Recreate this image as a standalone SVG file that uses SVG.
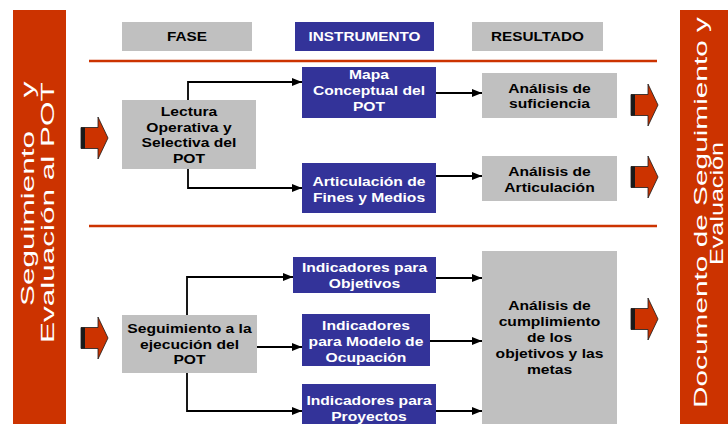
<svg xmlns="http://www.w3.org/2000/svg" xmlns:xlink="http://www.w3.org/1999/xlink" width="728" height="424" viewBox="0 0 728 424">
  <style>
    .bar { fill: #CC3300; }
    .gray { fill: #C0C0C0; }
    .blue { fill: #333399; }
    .t { font-family: "Liberation Sans", Arial, sans-serif; font-weight: bold; font-size: 13.5px; text-anchor: middle; }
    .tk { fill: #000000; }
    .tw { fill: #FFFFFF; }
    .hd { font-size: 13.2px; }
    .side { font-family: "Liberation Sans", Arial, sans-serif; fill: #FFFFFF; }
    .rule { stroke: #CC3300; stroke-width: 2.5; fill: none; }
    .conn { stroke: #000000; stroke-width: 1.8; fill: none; marker-end: url(#ah); }
  </style>
  <defs>
    <marker id="ah" markerUnits="userSpaceOnUse" markerWidth="10" markerHeight="8" refX="10" refY="4" orient="auto">
      <path d="M0,0 L10,4 L0,8 Z" fill="#000000"/>
    </marker>
    <g id="blk">
      <path d="M0,-10.5 H17 V-21 L27,0 L17,21 V10.5 H0 Z" fill="#CC3300" stroke="#1a1a1a" stroke-width="0.8"/>
      <rect x="0" y="-10.5" width="4" height="21" fill="#1a1a1a"/>
    </g>
  </defs>

  <!-- side bars -->
  <g id="left-bar">
    <rect class="bar" x="13" y="10" width="53" height="414"/>
    <text class="side" font-size="17.5" transform="translate(34,306) rotate(-90) scale(1.8,1)"><tspan x="0" y="0">Seguimiento</tspan><tspan x="116" y="0">y</tspan></text>
    <text class="side" font-size="17.5" transform="translate(54,343) rotate(-90) scale(1.8,1)">Evaluación al POT</text>
  </g>
  <g id="right-bar">
    <rect class="bar" x="680" y="10" width="48" height="414"/>
    <text class="side" font-size="19" transform="translate(707,408) rotate(-90)" textLength="391" lengthAdjust="spacingAndGlyphs">Documento de Seguimiento y</text>
    <text class="side" font-size="18.5" transform="translate(723,265) rotate(-90)" textLength="123" lengthAdjust="spacingAndGlyphs">Evaluación</text>
  </g>

  <!-- headers -->
  <g id="h-fase">
    <rect class="gray" x="122" y="22" width="130" height="29"/>
    <text class="t tk hd" transform="translate(187,0) scale(1.16,1)" x="0" y="41.5">FASE</text>
  </g>
  <g id="h-instrumento">
    <rect class="blue" x="295" y="22" width="139" height="29"/>
    <text class="t tw hd" transform="translate(364.5,0) scale(1.16,1)" x="0" y="41.5">INSTRUMENTO</text>
  </g>
  <g id="h-resultado">
    <rect class="gray" x="472" y="22" width="131" height="29"/>
    <text class="t tk hd" transform="translate(537.5,0) scale(1.16,1)" x="0" y="41.5">RESULTADO</text>
  </g>

  <!-- separator rules -->
  <g id="rules">
    <line class="rule" x1="89" y1="61" x2="657" y2="61"/>
    <line class="rule" x1="89" y1="226" x2="657" y2="226"/>
  </g>

  <!-- nodes -->
  <g id="lectura">
    <rect class="gray" x="122" y="100" width="134" height="69"/>
    <text class="t tk" transform="translate(189,0) scale(1.16,1)"><tspan x="0" y="116">Lectura</tspan><tspan x="0" y="131.7">Operativa y</tspan><tspan x="0" y="147.4">Selectiva del</tspan><tspan x="0" y="163">POT</tspan></text>
  </g>
  <g id="mapa">
    <rect class="blue" x="302" y="67" width="134" height="51"/>
    <text class="t tw" transform="translate(369,0) scale(1.16,1)"><tspan x="0" y="79">Mapa</tspan><tspan x="0" y="95">Conceptual del</tspan><tspan x="0" y="111">POT</tspan></text>
  </g>
  <g id="articulacion">
    <rect class="blue" x="302" y="163" width="134" height="50"/>
    <text class="t tw" transform="translate(369,0) scale(1.16,1)"><tspan x="0" y="186">Articulación de</tspan><tspan x="0" y="201.7">Fines y Medios</tspan></text>
  </g>
  <g id="suficiencia">
    <rect class="gray" x="482" y="73" width="135" height="45"/>
    <text class="t tk" transform="translate(549.5,0) scale(1.16,1)"><tspan x="0" y="92.7">Análisis de</tspan><tspan x="0" y="108.3">suficiencia</tspan></text>
  </g>
  <g id="an-articulacion">
    <rect class="gray" x="482" y="156" width="135" height="45"/>
    <text class="t tk" transform="translate(549.5,0) scale(1.16,1)"><tspan x="0" y="176">Análisis de</tspan><tspan x="0" y="191.7">Articulación</tspan></text>
  </g>
  <g id="seguimiento">
    <rect class="gray" x="122" y="315" width="135" height="58"/>
    <text class="t tk" transform="translate(189.5,0) scale(1.16,1)"><tspan x="0" y="333.3">Seguimiento a la</tspan><tspan x="0" y="349">ejecución del</tspan><tspan x="0" y="364.5">POT</tspan></text>
  </g>
  <g id="ind-objetivos">
    <rect class="blue" x="293" y="257" width="143" height="36"/>
    <text class="t tw" transform="translate(364.5,0) scale(1.16,1)"><tspan x="0" y="271.7">Indicadores para</tspan><tspan x="0" y="288.3">Objetivos</tspan></text>
  </g>
  <g id="ind-modelo">
    <rect class="blue" x="302" y="314" width="128" height="52"/>
    <text class="t tw" transform="translate(366,0) scale(1.16,1)"><tspan x="0" y="330">Indicadores</tspan><tspan x="0" y="345.7">para Modelo de</tspan><tspan x="0" y="361.7">Ocupación</tspan></text>
  </g>
  <g id="ind-proyectos">
    <rect class="blue" x="302" y="384" width="134" height="42"/>
    <text class="t tw" transform="translate(369,0) scale(1.16,1)"><tspan x="0" y="405">Indicadores para</tspan><tspan x="0" y="420.7">Proyectos</tspan></text>
  </g>
  <g id="cumplimiento">
    <rect class="gray" x="482" y="251" width="135" height="175"/>
    <text class="t tk" transform="translate(549.5,0) scale(1.16,1)"><tspan x="0" y="310">Análisis de</tspan><tspan x="0" y="326">cumplimiento</tspan><tspan x="0" y="342">de los</tspan><tspan x="0" y="358">objetivos y las</tspan><tspan x="0" y="374">metas</tspan></text>
  </g>

  <!-- block arrows -->
  <g id="block-arrows">
    <use xlink:href="#blk" href="#blk" transform="translate(81,138)"/>
    <use xlink:href="#blk" href="#blk" transform="translate(81,338)"/>
    <use xlink:href="#blk" href="#blk" transform="translate(631,105)"/>
    <use xlink:href="#blk" href="#blk" transform="translate(631,177)"/>
    <use xlink:href="#blk" href="#blk" transform="translate(631,319)"/>
  </g>

  <!-- connectors -->
  <g id="connectors">
    <path class="conn" d="M188,100 V82 H302"/>
    <path class="conn" d="M188,169 V188 H302"/>
    <path class="conn" d="M436,93 H482"/>
    <path class="conn" d="M436,176 H482"/>
    <path class="conn" d="M187,315 V277 H293"/>
    <path class="conn" d="M257,347 H302"/>
    <path class="conn" d="M187,373 V411 H302"/>
    <path class="conn" d="M436,278 H482"/>
    <path class="conn" d="M430,341 H482"/>
    <path class="conn" d="M436,411 H482"/>
  </g>
</svg>
